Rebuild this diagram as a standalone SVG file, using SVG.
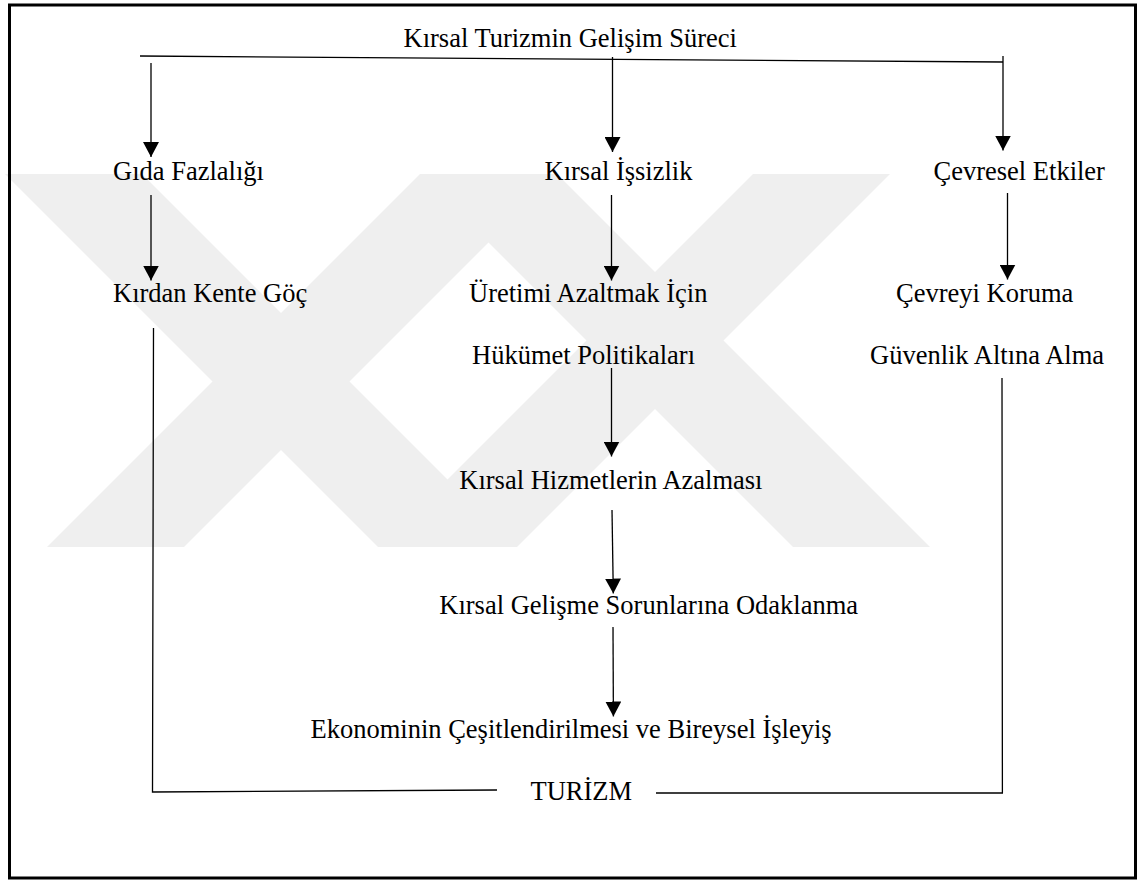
<svg xmlns="http://www.w3.org/2000/svg" width="1144" height="880" viewBox="0 0 1144 880">
<style>
.t{font-family:"Liberation Serif","Times New Roman",serif;font-size:26.5px;fill:#000}
.c{fill:none;stroke:#000;stroke-width:1.3}
.wm{fill:#efefef}
</style>
<defs>
<marker id="ah" markerUnits="userSpaceOnUse" markerWidth="15" markerHeight="16" viewBox="0 0 15 16" refX="15" refY="8" orient="auto">
<path d="M0,0 L15,8 L0,16 z" fill="#000"/>
</marker>
<clipPath id="wmclip"><rect x="0" y="174" width="1144" height="373"/></clipPath>
</defs>
<rect x="0" y="0" width="1144" height="880" fill="#fff"/>
<g id="watermark" clip-path="url(#wmclip)">
<polygon class="wm" points="5,174 142,174 515,547 378,547"/>
<polygon class="wm" points="420,174 557,174 184,547 47,547"/>
<polygon class="wm" points="753,174 890,174 517,547 380,547"/>
<polygon class="wm" points="420,174 557,174 930,547 793,547"/>
</g>
<rect x="9.5" y="5" width="1126" height="873" fill="none" stroke="#000" stroke-width="3"/>
<g id="connectors">
<polyline class="c" points="140,56 1003,62"/>
<line class="c" x1="151" y1="63" x2="151" y2="157" marker-end="url(#ah)"/>
<line class="c" x1="612.5" y1="57" x2="612.5" y2="152" marker-end="url(#ah)"/>
<line class="c" x1="1003" y1="56" x2="1003" y2="150.5" marker-end="url(#ah)"/>
<line class="c" x1="151" y1="195" x2="151" y2="280.5" marker-end="url(#ah)"/>
<line class="c" x1="611.5" y1="195" x2="611.5" y2="280.5" marker-end="url(#ah)"/>
<line class="c" x1="1007.5" y1="193" x2="1007.5" y2="279.5" marker-end="url(#ah)"/>
<line class="c" x1="611.5" y1="368" x2="611.5" y2="456.5" marker-end="url(#ah)"/>
<line class="c" x1="612" y1="510" x2="613.3" y2="593.5" marker-end="url(#ah)"/>
<line class="c" x1="613" y1="627" x2="613.4" y2="716.5" marker-end="url(#ah)"/>
<polyline class="c" points="153.5,328 152.5,792 497,790"/>
<polyline class="c" points="1002,378 1002.4,793 656,793"/>
</g>
<g id="n-title"><text class="t" x="403.5" y="46.5">Kırsal Turizmin Gelişim Süreci</text></g>
<g id="n-gida"><text class="t" x="113" y="180">Gıda Fazlalığı</text></g>
<g id="n-issizlik"><text class="t" x="544.5" y="180">Kırsal İşsizlik</text></g>
<g id="n-cevresel"><text class="t" x="933.5" y="180">Çevresel Etkiler</text></g>
<g id="n-goc"><text class="t" x="113" y="302">Kırdan Kente Göç</text></g>
<g id="n-hukumet"><text class="t" x="469" y="302">Üretimi Azaltmak İçin</text><text class="t" x="472" y="364">Hükümet Politikaları</text></g>
<g id="n-koruma"><text class="t" x="896" y="302">Çevreyi Koruma</text><text class="t" x="870" y="364">Güvenlik Altına Alma</text></g>
<g id="n-hizmet"><text class="t" x="459.3" y="489">Kırsal Hizmetlerin Azalması</text></g>
<g id="n-gelisme"><text class="t" x="439.3" y="614">Kırsal Gelişme Sorunlarına Odaklanma</text></g>
<g id="n-ekonomi"><text class="t" x="310.5" y="738">Ekonominin Çeşitlendirilmesi ve Bireysel İşleyiş</text></g>
<g id="n-turizm"><text class="t" x="530.5" y="800">TURİZM</text></g>
</svg>
